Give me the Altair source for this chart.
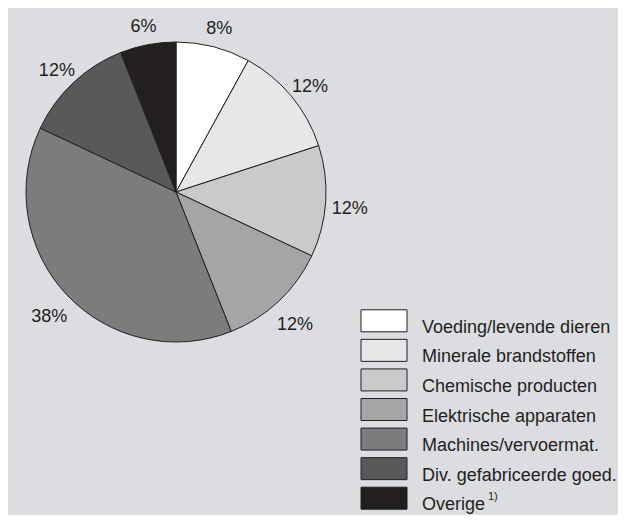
import altair as alt
import pandas as pd

# Data
categories = [
    "Voeding/levende dieren",
    "Minerale brandstoffen",
    "Chemische producten",
    "Elektrische apparaten",
    "Machines/vervoermat.",
    "Div. gefabriceerde goed.",
    "Overige",
]
values = [8, 12, 12, 12, 38, 12, 6]
notes = ["", "", "", "", "", "", "1)"]
colors = ["#ffffff", "#e6e7e9", "#c9cacc", "#a4a5a7", "#7b7c7e", "#58595b", "#231f20"]

df = pd.DataFrame({
    "cat": categories,
    "value": values,
    "idx": list(range(len(categories))),
    "label": [f"{v}%" for v in values],
    "note": notes,
})

INK = "#231f20"
FONT = "Liberation Sans"
CX, CY = 168, 184

color = alt.Color("cat:N", scale=alt.Scale(domain=categories, range=colors), legend=None)
theta = alt.Theta("value:Q", stack=True)
order = alt.Order("idx:Q")

base = alt.Chart(df)

pie = base.mark_arc(outerRadius=150, stroke=INK, strokeWidth=1).encode(
    theta=theta, order=order, color=color,
    x=alt.value(CX), y=alt.value(CY),
)

pie_labels = base.mark_text(radius=174, dy=6, fontSize=18, font=FONT, color=INK).encode(
    theta=theta, order=order, text="label:N",
    x=alt.value(CX), y=alt.value(CY),
)

ypos = alt.Y("cat:N", sort=categories, axis=None,
             scale=alt.Scale(range=[298, 505], paddingInner=0, paddingOuter=0))

leg_boxes = base.mark_rect(height=22, stroke=INK, strokeWidth=1).encode(
    y=ypos, color=color,
    x=alt.value(353), x2=alt.value(399),
)

leg_text = base.mark_text(align="left", baseline="alphabetic", dy=12,
                          fontSize=18, font=FONT, color=INK).encode(
    y=ypos, text="cat:N", x=alt.value(414),
)

leg_note = base.mark_text(align="left", baseline="alphabetic", dy=2,
                          fontSize=11, font=FONT, color=INK).encode(
    y=ypos, text="note:N", x=alt.value(480),
)

chart = alt.layer(pie, pie_labels, leg_boxes, leg_text, leg_note).properties(
    width=610, height=507,
    autosize=alt.AutoSizeParams(type="none"),
    padding=0,
    background="#dcdde0",
    title=alt.Title("7.  Aandeel producten in de invoer in 2004", anchor="start",
                    fontSize=16, font=FONT, fontWeight="bold", color=INK, offset=12),
).configure_view(stroke=None)

chart.save("out.html", embed_options={"renderer": "svg", "actions": False})
